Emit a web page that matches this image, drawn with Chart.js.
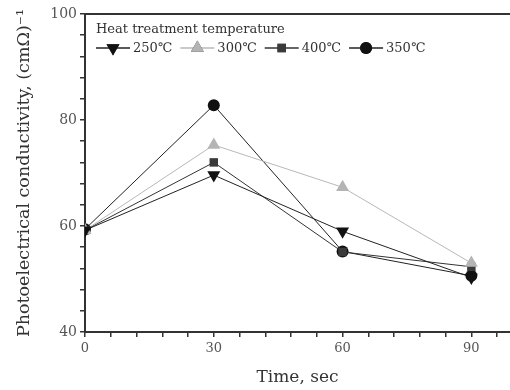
<!DOCTYPE html>
<html>
<head>
<meta charset="utf-8">
<script src="https://cdn.jsdelivr.net/npm/chart.js@4/dist/chart.umd.min.js"></script>
<style>
html,body{margin:0;padding:0;background:#fff;}
canvas{display:block;}
</style>
</head>
<body>
<canvas id="c" width="510" height="390"></canvas>
<script>
const times = [0, 30, 60, 90];
const s250 = [59.2, 69.6, 59.0, 50.3];
const s300 = [59.2, 75.3, 67.3, 53.0];
const s400 = [59.2, 72.0, 55.1, 52.3];
const s350 = [59.4, 82.8, 55.2, 50.6];
const seriesLabels = ['250\u2103', '300\u2103', '400\u2103', '350\u2103'];
const legendTitle = 'Heat treatment temperature';
const xTitle = 'Time, sec';
const yTitle = 'Photoelectrical conductivity, (cm\u03A9)\u207B\u00B9';
const xTickValues = [0, 6, 12, 18, 24, 30, 36, 42, 48, 54, 60, 66, 72, 78, 84, 90, 96];
const xLabelValues = [0, 30, 60, 90];
const yTickValues = [40, 44, 48, 52, 56, 60, 64, 68, 72, 76, 80, 84, 88, 92, 96, 100];
const yLabelValues = [40, 60, 80, 100];

const FONT = "'DejaVu Serif', 'Liberation Serif', serif";

function pts(arr){ return times.map((t,i)=>({x:t, y:arr[i]})); }

const styles = [
  {color:'#111111', pointStyle:'triangle', rotation:180, radius:7.5},
  {color:'#b4b4b4', pointStyle:'triangle', rotation:0, radius:7.5},
  {color:'#3a3a3a', pointStyle:'rect', rotation:0, radius:6},
  {color:'#111111', pointStyle:'circle', rotation:0, radius:6},
];
const lineColors = ['#222222', '#b8b8b8', '#333333', '#222222'];
const dataArr = [s250, s300, s400, s350];

const datasets = dataArr.map((d,i)=>({
  label: seriesLabels[i],
  data: pts(d),
  borderColor: lineColors[i],
  borderWidth: 1,
  backgroundColor: styles[i].color,
  pointBackgroundColor: styles[i].color,
  pointBorderColor: styles[i].color,
  pointBorderWidth: 0,
  pointStyle: styles[i].pointStyle,
  pointRotation: styles[i].rotation,
  pointRadius: styles[i].radius,
  tension: 0,
  fill: false
}));

const stretchRight = {
  id: 'stretchRight',
  afterLayout(chart){
    const xs = chart.scales.x;
    const R = chart.width;
    xs.right = R;
    xs.width = R - xs.left;
    xs.configure();
    chart.chartArea.right = R;
    chart.chartArea.width = R - chart.chartArea.left;
  }
};

const customLegend = {
  id: 'customLegend',
  afterDraw(chart){
    const ctx = chart.ctx;
    const ca = chart.chartArea;
    ctx.save();
    ctx.strokeStyle = '#333';
    ctx.lineWidth = 2;
    ctx.beginPath();
    ctx.moveTo(ca.left, ca.top);
    ctx.lineTo(chart.width, ca.top);
    ctx.stroke();

    ctx.font = '13px ' + FONT;
    ctx.fillStyle = '#333';
    ctx.textBaseline = 'middle';
    ctx.textAlign = 'left';
    ctx.fillText(legendTitle, ca.left + 11, 30);
    let x = ca.left + 11;
    const y = 48;
    chart.data.datasets.forEach((ds, i) => {
      const sw = 34;
      ctx.strokeStyle = ds.borderColor;
      ctx.lineWidth = 1.5;
      ctx.beginPath();
      ctx.moveTo(x, y);
      ctx.lineTo(x + sw, y);
      ctx.stroke();
      Chart.helpers.drawPoint(ctx, {
        pointStyle: ds.pointStyle,
        rotation: ds.pointRotation,
        radius: ds.pointRadius,
        borderWidth: 0
      }, x + sw/2, y);
      ctx.fillStyle = ds.pointBackgroundColor;
      ctx.fill();
      ctx.fillStyle = '#333';
      ctx.fillText(ds.label, x + sw + 3, y + 1);
      x += sw + 3 + ctx.measureText(ds.label).width + 8;
    });
    ctx.restore();
  }
};

new Chart(document.getElementById('c'), {
  type: 'line',
  data: { datasets },
  options: {
    responsive: false,
    animation: false,
    devicePixelRatio: 1,
    layout: { padding: { top: 14, right: 0, left: 0, bottom: 0 } },
    plugins: { legend: { display: false }, tooltip: { enabled: false } },
    scales: {
      x: {
        type: 'linear',
        min: 0, max: 99,
        afterBuildTicks: s => { s.ticks = xTickValues.map(v => ({value: v})); },
        afterFit: s => { s.height = 58; s.paddingRight = 0; s.paddingLeft = 0; },
        ticks: {
          autoSkip: false,
          maxRotation: 0,
          padding: 4,
          color: '#555',
          font: { family: FONT, size: 13 },
          callback: v => xLabelValues.includes(v) ? String(v) : ''
        },
        grid: { display: true, drawOnChartArea: false, drawTicks: true, tickLength: 5, color: '#333', lineWidth: 1.5 },
        border: { display: true, color: '#333', width: 2 },
        title: { display: true, text: xTitle, color: '#333', font: { family: FONT, size: 17 }, padding: { top: 0, bottom: 2 } }
      },
      y: {
        type: 'linear',
        min: 40, max: 100,
        afterBuildTicks: s => { s.ticks = yTickValues.map(v => ({value: v})); },
        afterFit: s => { s.width = 85; },
        ticks: {
          autoSkip: false,
          padding: 3,
          color: '#555',
          font: { family: FONT, size: 14 },
          callback: v => yLabelValues.includes(v) ? String(v) : ''
        },
        grid: { display: true, drawOnChartArea: false, drawTicks: true, tickLength: 5, color: '#333', lineWidth: 1.5 },
        border: { display: true, color: '#333', width: 2 },
        title: { display: true, text: yTitle, color: '#333', font: { family: FONT, size: 17.5 }, padding: { top: 14, bottom: 0 } }
      }
    }
  },
  plugins: [stretchRight, customLegend]
});
</script>
</body>
</html>
